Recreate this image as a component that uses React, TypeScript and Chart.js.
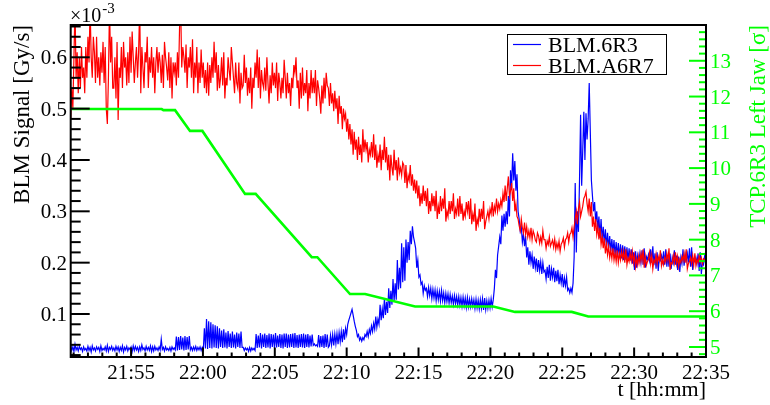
import React, { useEffect, useRef } from "react";
import { Chart, registerables } from "chart.js";

Chart.register(...registerables);

// Both BLM channels are logged on the same clock: one reading every 0.075 min
// (4.5 s), first reading at 21:50.8. Times are kept as minutes after 21:00.
const T_START = 50.8;
const T_STEP = 0.075;

// BLM.6R3 signal, µGy/s (one row = 3 minutes)
const BLM_6R3 = [
  38, 29, 36, 27, 41, 30, 35, 28, 37, 31, 34, 27, 36, 30, 33, 28, 37, 29, 35, 26, 38, 30, 34, 28, 36, 31, 35, 27, 38, 29, 33, 30, 36, 28, 39, 27, 35, 31, 37, 29,
  34, 28, 37, 30, 36, 27, 35, 29, 38, 26, 35, 30, 37, 28, 34, 31, 36, 27, 38, 29, 37, 30, 35, 27, 36, 29, 40, 31, 34, 28, 37, 30, 35, 29, 38, 27, 36, 28, 37, 30,
  34, 29, 36, 30, 51, 31, 35, 28, 36, 30, 33, 29, 35, 28, 36, 31, 34, 30, 56, 29, 55, 30, 57, 31, 54, 29, 57, 30, 55, 31, 57, 30, 35, 29, 36, 30, 37, 29, 35, 30,
  36, 29, 35, 30, 72, 33, 90, 32, 86, 34, 84, 33, 80, 35, 78, 34, 76, 33, 72, 36, 68, 34, 70, 35, 64, 33, 67, 36, 62, 34, 66, 35, 60, 33, 64, 36, 62, 34, 66, 35,
  35, 29, 34, 30, 33, 27, 35, 28, 34, 30, 33, 29, 61, 34, 58, 35, 63, 33, 60, 36, 62, 34, 59, 35, 62, 33, 61, 36, 60, 34, 63, 35, 58, 36, 61, 34, 60, 33, 62, 36,
  62, 34, 60, 35, 61, 36, 62, 34, 63, 35, 59, 34, 60, 36, 61, 35, 62, 34, 60, 36, 61, 35, 58, 37, 60, 39, 42, 38, 40, 37, 59, 35, 57, 36, 58, 34, 61, 36, 60, 35,
  38, 58, 40, 60, 39, 61, 42, 62, 41, 64, 46, 66, 45, 70, 50, 72, 60, 80, 88, 95, 102, 109, 98, 86, 76, 68, 56, 60, 49, 54, 47, 54, 50, 60, 56, 66, 56, 70, 62, 77,
  66, 82, 70, 95, 74, 90, 80, 118, 88, 110, 92, 130, 98, 124, 102, 150, 112, 145, 118, 168, 125, 160, 128, 205, 148, 190, 150, 238, 162, 230, 165, 245, 200, 240, 205, 262, 236, 271, 250, 240,
  228, 190, 205, 172, 176, 158, 162, 140, 155, 146, 150, 134, 152, 136, 150, 130, 148, 131, 147, 126, 145, 128, 144, 125, 146, 126, 141, 122, 140, 124, 139, 121, 138, 122, 135, 119, 136, 120, 134, 118,
  134, 117, 132, 115, 133, 116, 131, 113, 132, 114, 129, 114, 130, 115, 128, 111, 129, 112, 127, 110, 128, 111, 130, 108, 131, 109, 126, 111, 127, 112, 130, 114, 128, 150, 186, 170, 215, 232, 250, 236,
  292, 262, 295, 270, 300, 275, 330, 290, 380, 345, 413, 360, 398, 340, 372, 300, 285, 262, 270, 240, 256, 232, 252, 210, 230, 196, 222, 200, 215, 188, 212, 190, 208, 182, 205, 185, 202, 178, 200, 182,
  185, 168, 192, 170, 196, 165, 188, 172, 190, 162, 184, 164, 186, 158, 176, 160, 178, 152, 170, 155, 172, 146, 150, 141, 150, 142, 160, 210, 355, 220, 300, 260, 360, 488, 350, 420, 494, 400, 491, 440,
  480, 550, 455, 361, 330, 300, 318, 280, 300, 262, 290, 248, 285, 242, 270, 236, 265, 230, 258, 228, 252, 222, 246, 220, 244, 214, 240, 212, 238, 210, 236, 208, 234, 205, 232, 206, 230, 204, 228, 204,
  226, 198, 220, 186, 222, 190, 214, 202, 218, 200, 224, 196, 228, 190, 212, 206, 216, 204, 226, 200, 232, 195, 218, 188, 220, 184, 208, 204, 214, 202, 222, 196, 226, 192, 214, 192, 218, 188, 210, 200,
  224, 196, 214, 186, 212, 182, 210, 198, 226, 194, 216, 204, 218, 200, 228, 192, 230, 186, 206, 202, 210, 198, 218, 184, 220, 178, 200, 196, 212, 198,
];

// BLM.A6R7 signal, µGy/s (one row = 3 minutes)
const BLM_A6R7 = [
  480, 540, 500, 600, 700, 560, 610, 530, 600, 540, 620, 560, 580, 530, 620, 560, 640, 590, 700, 600, 560, 640, 610, 550, 640, 560, 600, 545, 610, 570, 630, 550, 620, 500, 470, 560, 700, 590, 640, 540,
  540, 600, 520, 630, 478, 580, 560, 620, 540, 630, 580, 600, 545, 610, 550, 640, 570, 650, 600, 550, 590, 620, 560, 610, 700, 530, 620, 580, 540, 610, 590, 640, 540, 600, 570, 620, 560, 600, 530, 590,
  620, 570, 610, 590, 550, 605, 540, 630, 600, 580, 555, 610, 540, 600, 520, 590, 570, 590, 545, 610, 560, 660, 700, 580, 620, 600, 570, 625, 540, 600, 580, 620, 560, 635, 530, 590, 560, 620, 530, 590,
  550, 615, 560, 590, 540, 575, 530, 590, 525, 585, 550, 600, 560, 630, 570, 610, 535, 585, 540, 560, 600, 545, 610, 520, 560, 545, 600, 575, 555, 620, 590, 560, 530, 590, 550, 540, 590, 510, 570, 540,
  545, 605, 550, 580, 525, 560, 530, 580, 500, 560, 540, 590, 560, 615, 540, 600, 520, 575, 550, 540, 580, 535, 600, 550, 510, 565, 530, 590, 545, 570, 540, 590, 515, 570, 550, 520, 560, 530, 595, 560,
  520, 570, 530, 550, 505, 560, 540, 585, 570, 600, 540, 555, 500, 570, 520, 580, 525, 550, 530, 575, 495, 550, 520, 575, 530, 560, 530, 575, 505, 555, 540, 520, 490, 545, 510, 560, 520, 570, 545, 540,
  505, 550, 510, 530, 495, 535, 500, 520, 470, 525, 490, 505, 460, 500, 480, 490, 455, 480, 440, 470, 430, 460, 410, 455, 420, 440, 400, 445, 410, 430, 395, 460, 415, 440, 420, 435, 395, 420, 410, 435,
  405, 450, 400, 430, 385, 410, 395, 430, 380, 420, 400, 445, 395, 425, 380, 410, 360, 410, 385, 370, 420, 380, 400, 360, 405, 375, 385, 370, 395, 390, 355, 390, 345, 370, 360, 390, 350, 372, 340, 362,
  335, 360, 325, 350, 310, 335, 315, 350, 320, 340, 310, 345, 295, 320, 300, 335, 310, 330, 300, 340, 285, 310, 295, 330, 300, 325, 305, 345, 280, 300, 290, 320, 295, 320, 300, 335, 285, 305, 295, 325,
  290, 330, 295, 315, 282, 300, 290, 318, 300, 320, 285, 325, 275, 295, 280, 315, 262, 285, 275, 305, 280, 305, 285, 320, 265, 280, 290, 300, 285, 305, 295, 318, 290, 310, 300, 325, 300, 315, 305, 322,
  310, 335, 318, 350, 320, 345, 368, 330, 340, 355, 320, 345, 300, 315, 290, 285, 272, 262, 285, 268, 258, 278, 255, 270, 250, 262, 248, 268, 245, 262, 255, 244, 240, 258, 252, 238, 250, 238, 262, 245,
  245, 228, 242, 235, 250, 232, 238, 244, 230, 246, 226, 238, 228, 242, 222, 236, 240, 248, 230, 245, 248, 258, 240, 255, 258, 268, 250, 270, 285, 300, 275, 305, 318, 290, 300, 310, 325, 330, 338, 315,
  300, 325, 290, 318, 270, 290, 262, 285, 255, 270, 245, 268, 235, 250, 228, 248, 218, 236, 215, 232, 210, 225, 208, 228, 205, 220, 202, 224, 200, 218, 205, 222, 208, 222, 200, 226, 196, 210, 202, 218,
  204, 222, 200, 215, 192, 208, 196, 214, 200, 218, 204, 226, 190, 212, 195, 202, 206, 220, 198, 214, 188, 205, 200, 216, 198, 212, 204, 224, 194, 205, 196, 210, 202, 218, 205, 228, 186, 200, 198, 214,
  200, 220, 198, 212, 192, 206, 200, 212, 204, 218, 200, 226, 188, 198, 202, 210, 198, 214, 196, 218, 194, 206, 200, 214, 202, 210, 198, 208, 206, 204,
];

// TCP.6R3 left jaw position: corner times (min after 21:00) and settings [σ]
const JAW_T = [50.8, 57.13, 57.25, 58.06, 59.1, 59.96, 62.93, 63.67, 67.57, 67.96, 70.23, 71.28, 74.76, 80.2, 81.71, 85.66, 86.81, 95];
const JAW_SIGMA = [11.65, 11.65, 11.62, 11.62, 11.04, 11.04, 9.28, 9.28, 7.51, 7.51, 6.48, 6.48, 6.13, 6.13, 5.98, 5.98, 5.85, 5.85];

// Axis ranges and labels
const X_RANGE = [50.8, 95];
const BLM_RANGE = [0.01626, 0.6629]; // ×10^-3 Gy/s
const SIGMA_RANGE = [4.72, 14.0];
const TIME_TICKS = [55, 60, 65, 70, 75, 80, 85, 90, 95];
const TIME_LABELS = ["21:55", "22:00", "22:05", "22:10", "22:15", "22:20", "22:25", "22:30", "22:35"];
const BLM_TICKS = [0.1, 0.2, 0.3, 0.4, 0.5, 0.6];
const BLM_LABELS = ["0.1", "0.2", "0.3", "0.4", "0.5", "0.6"];
const SIGMA_TICKS = [5, 6, 7, 8, 9, 10, 11, 12, 13];
const SIGMA_LABELS = ["5", "6", "7", "8", "9", "10", "11", "12", "13"];

const SERIF = '"Liberation Serif", "Times New Roman", serif';
const BLUE = "#0000ff";
const RED = "#ff0000";
const GREEN = "#00ff00";

const frameAxes = {
  id: "frameAxes",
  afterDatasetsDraw(chart: any) {
    const { ctx, chartArea: a, scales } = chart;
    const xs = scales.x;
    const yl = scales.y;
    const yr = scales.y2;
    const seg = (x1: number, y1: number, x2: number, y2: number) => {
      ctx.beginPath();
      ctx.moveTo(x1, y1);
      ctx.lineTo(x2, y2);
      ctx.stroke();
    };
    ctx.save();
    ctx.lineCap = "butt";

    // time axis ticks: every minute, long ones every 5 minutes
    ctx.strokeStyle = "#000";
    ctx.lineWidth = 2;
    for (let m = Math.ceil(xs.min); m <= xs.max + 1e-6; m++) {
      const px = xs.getPixelForValue(m);
      seg(px, a.bottom, px, a.bottom - (m % 5 === 0 ? 9.5 : 4.5));
    }
    // left axis ticks: 0.02 steps, long ones every 0.1
    for (let k = 1; k * 0.02 <= yl.max + 1e-9; k++) {
      const v = k * 0.02;
      if (v < yl.min) continue;
      const py = yl.getPixelForValue(v);
      seg(a.left, py, a.left + (k % 5 === 0 ? 19 : 10), py);
    }
    // right axis ticks: 0.2 σ steps, long ones every 1 σ
    ctx.strokeStyle = GREEN;
    for (let k = Math.ceil(yr.min * 5); k <= Math.floor(yr.max * 5 + 1e-6); k++) {
      const py = yr.getPixelForValue(k / 5);
      seg(a.right, py, a.right - (k % 5 === 0 ? 17 : 7), py);
    }

    // frame
    ctx.strokeStyle = "#000";
    ctx.lineWidth = 2;
    ctx.strokeRect(a.left, a.top, a.right - a.left, a.bottom - a.top);

    // tick labels
    ctx.font = `21px ${SERIF}`;
    ctx.fillStyle = "#000";
    ctx.textBaseline = "alphabetic";
    ctx.textAlign = "center";
    TIME_TICKS.forEach((t, i) => ctx.fillText(TIME_LABELS[i], xs.getPixelForValue(t), 379));
    ctx.textAlign = "right";
    BLM_TICKS.forEach((v, i) => ctx.fillText(BLM_LABELS[i], 67, yl.getPixelForValue(v) + 7));
    ctx.textAlign = "left";
    ctx.fillStyle = GREEN;
    SIGMA_TICKS.forEach((v, i) => ctx.fillText(SIGMA_LABELS[i], 710, yr.getPixelForValue(v) + 7));

    // exponent of the left axis
    ctx.fillStyle = "#000";
    ctx.font = `20px ${SERIF}`;
    ctx.fillText("×10", 70, 21.5);
    const w = ctx.measureText("×10").width;
    ctx.font = `15px ${SERIF}`;
    ctx.fillText("-3", 70 + w + 1, 12.5);

    // axis titles
    ctx.font = `22px ${SERIF}`;
    ctx.textAlign = "right";
    ctx.fillText("t [hh:mm]", a.right, 396);
    ctx.font = `23px ${SERIF}`;
    ctx.save();
    ctx.translate(28.5, a.top);
    ctx.rotate(-Math.PI / 2);
    ctx.fillText("BLM Signal [Gy/s]", 0, 0);
    ctx.restore();
    ctx.save();
    ctx.fillStyle = GREEN;
    ctx.translate(765, a.top);
    ctx.rotate(-Math.PI / 2);
    ctx.fillText("TCP.6R3 Left Jaw [σ]", 0, 0);
    ctx.restore();

    // legend
    ctx.fillStyle = "#fff";
    ctx.fillRect(507.5, 34.5, 159, 40);
    ctx.strokeStyle = "#000";
    ctx.lineWidth = 1;
    ctx.strokeRect(507.5, 34.5, 159, 40);
    ctx.lineWidth = 1.2;
    ctx.strokeStyle = BLUE;
    seg(513, 44.5, 541, 44.5);
    ctx.strokeStyle = RED;
    seg(513, 65.5, 541, 65.5);
    ctx.fillStyle = "#000";
    ctx.font = `22px ${SERIF}`;
    ctx.textAlign = "left";
    ctx.fillText("BLM.6R3", 548, 52);
    ctx.fillText("BLM.A6R7", 548, 73);

    ctx.restore();
  },
};

export default function App() {
  const ref = useRef<HTMLCanvasElement | null>(null);

  useEffect(() => {
    if (!ref.current) return;
    const blue = BLM_6R3.map((v, i) => ({ x: T_START + T_STEP * i, y: v / 1000 }));
    const red = BLM_A6R7.map((v, i) => ({ x: T_START + T_STEP * i, y: v / 1000 }));
    const jaw = JAW_T.map((t, i) => ({ x: t, y: JAW_SIGMA[i] }));

    const chart = new Chart(ref.current, {
      type: "line",
      data: {
        datasets: [
          { label: "TCP.6R3 Left Jaw", data: jaw, yAxisID: "y2", borderColor: GREEN, borderWidth: 2.6, pointRadius: 0, order: 0 },
          { label: "BLM.A6R7", data: red, yAxisID: "y", borderColor: RED, borderWidth: 1.2, pointRadius: 0, order: 1 },
          { label: "BLM.6R3", data: blue, yAxisID: "y", borderColor: BLUE, borderWidth: 1.2, pointRadius: 0, order: 2 },
        ],
      },
      options: {
        animation: false,
        responsive: false,
        events: [],
        layout: { padding: { left: 70.7, top: 25, right: 64, bottom: 48 } },
        elements: { line: { tension: 0, borderJoinStyle: "miter" } },
        scales: {
          x: { type: "linear", min: X_RANGE[0], max: X_RANGE[1], display: false },
          y: { type: "linear", min: BLM_RANGE[0], max: BLM_RANGE[1], display: false },
          y2: { type: "linear", position: "right", min: SIGMA_RANGE[0], max: SIGMA_RANGE[1], display: false },
        },
        plugins: { legend: { display: false }, tooltip: { enabled: false } },
      },
      plugins: [frameAxes],
    });
    return () => chart.destroy();
  }, []);

  return (
    <div style={{ position: "absolute", left: 0, top: 0, width: 770, height: 405, background: "#fff" }}>
      <canvas ref={ref} width={770} height={405} style={{ width: 770, height: 405 }} />
    </div>
  );
}
